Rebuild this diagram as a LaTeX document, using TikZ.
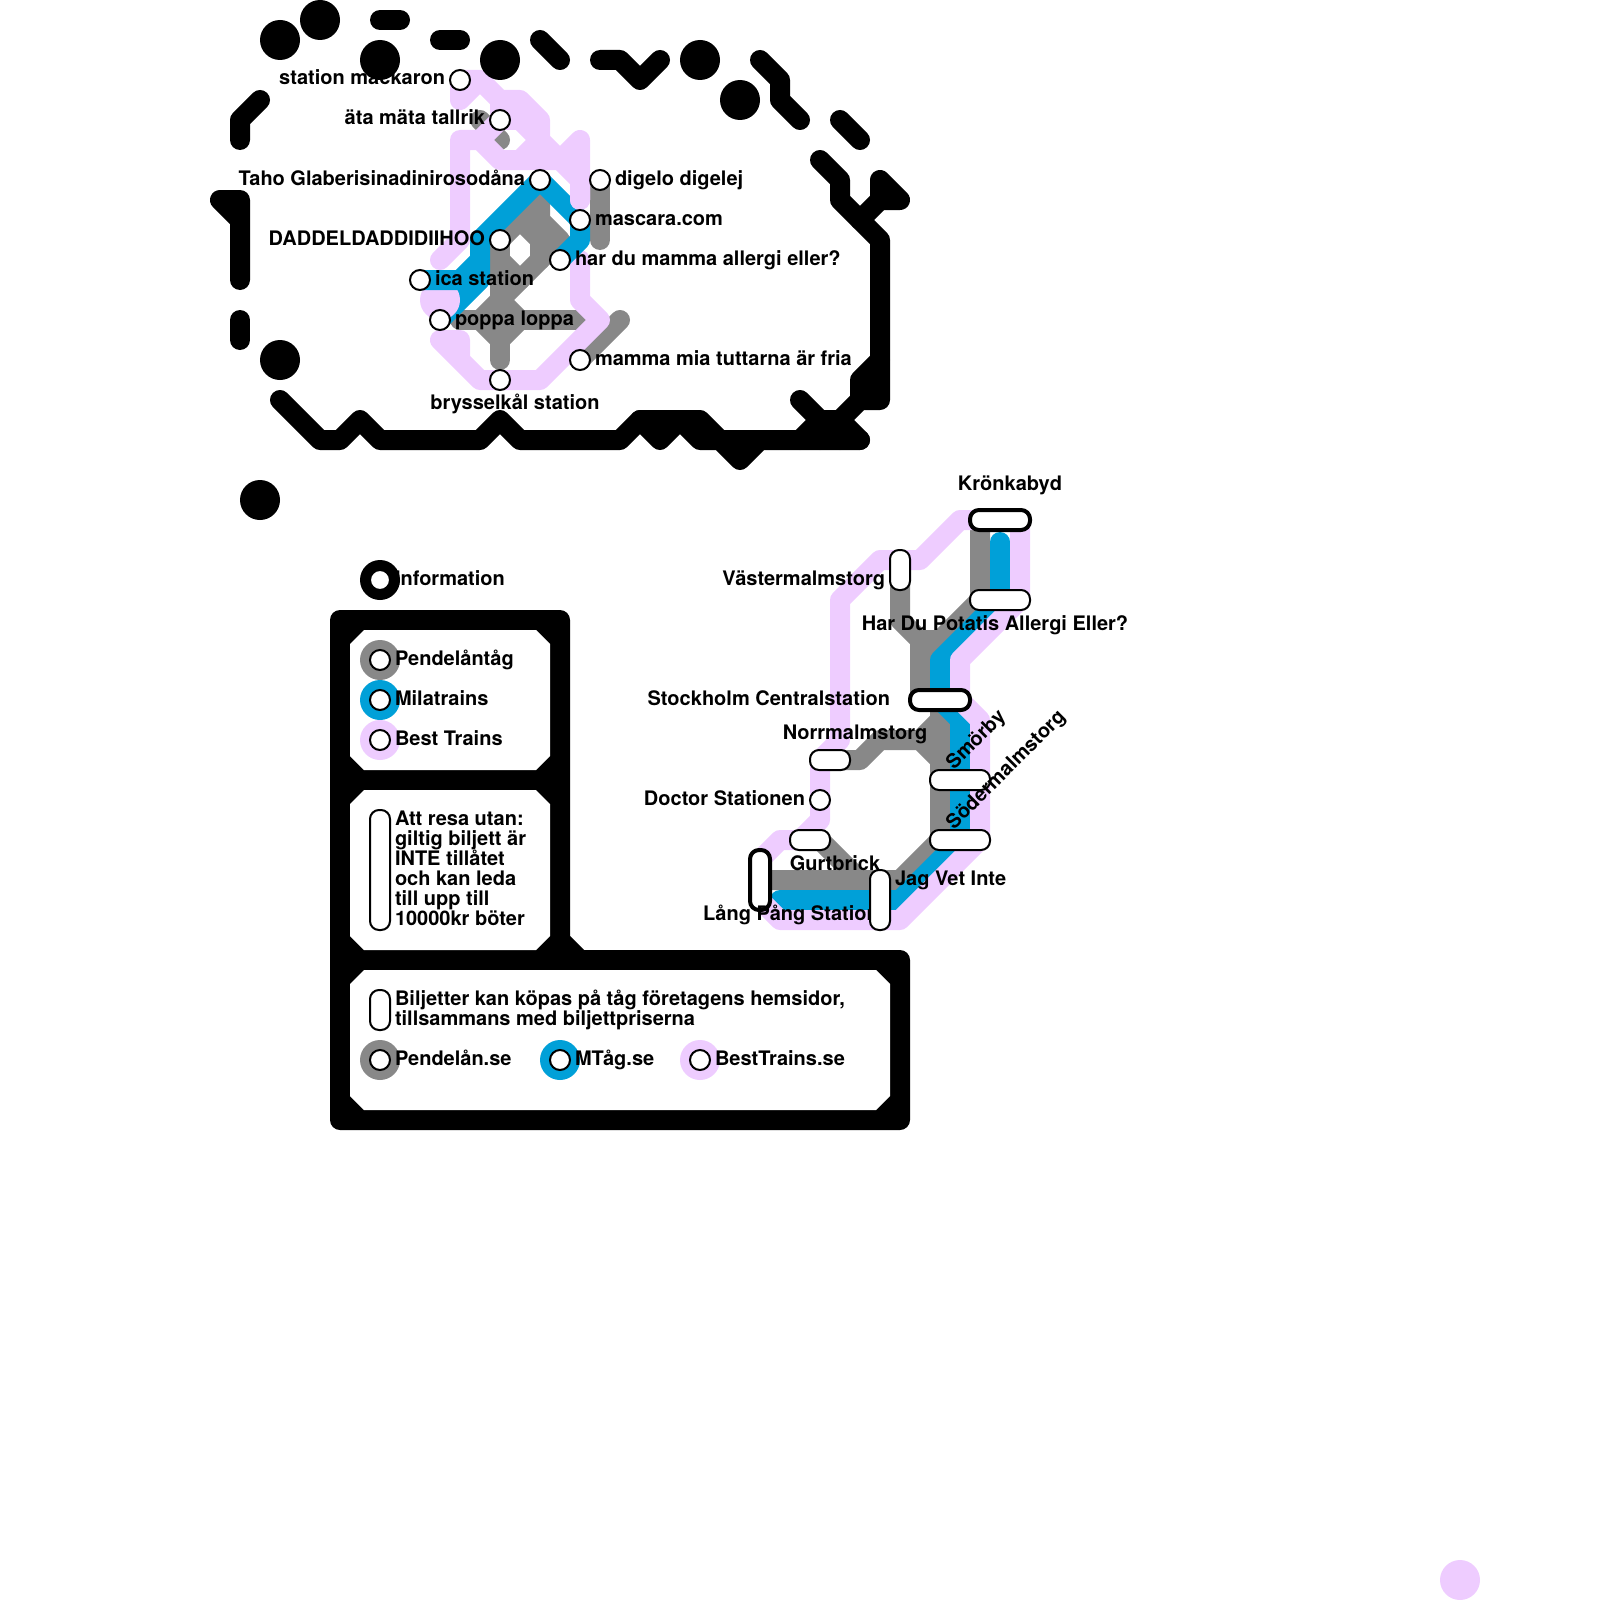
\documentclass[tikz,border=0pt]{standalone}
\usepackage{fontspec}
\setmainfont{TeX Gyre Heros}
\usetikzlibrary{positioning,backgrounds}
\definecolor{trainGrey}{RGB}{136,136,136}
\definecolor{trainBlue}{RGB}{0,160,216}
\definecolor{trainPink}{RGB}{238,204,255}

\begin{document}
\begin{tikzpicture}[
    x=0.5pt, y=-0.5pt,
    stop/.style={circle, draw, fill=white, line width=1pt, minimum size=10pt, inner sep=0pt},
    hub/.style={rectangle, draw, fill=white, line width=1pt, line join=round, rounded corners=4.49pt, inner sep=0pt},
    widehub/.style={hub, minimum width=30pt, minimum height=10pt},
    shorthub/.style={hub, minimum width=20pt, minimum height=10pt},
    tallhub/.style={hub, minimum width=10pt, minimum height=30pt},
    midhub/.style={hub, minimum width=10pt, minimum height=20pt},
    heavywide/.style={hub, line width=2pt, outer sep=0pt, minimum width=30pt, minimum height=10pt},
    heavytall/.style={hub, line width=2pt, outer sep=0pt, minimum width=10pt, minimum height=30pt},
    lbl/.style={inner sep=0pt, outer sep=0pt, font=\bfseries, text height=7.5pt, text depth=2.5pt},
    para/.style={inner sep=0pt, outer sep=0pt, align=left, font=\fontsize{10}{10}\selectfont\bfseries},
    disc/.style={circle, fill=#1, minimum size=20pt, inner sep=0pt},
    route/.style={line width=10pt, line cap=round, line join=round}
]
\useasboundingbox (0,0) rectangle (1600,1600);

\foreach \x/\y in {280/40, 320/20, 380/60, 500/60, 700/60, 740/100, 280/360, 260/500}
    \node[disc=black] (dot\x) at (\x,\y) {};
\node[disc=trainPink] (dotCorner) at (1460,1580) {};

\node[stop] (stMack) at (460,80) {};
\node[lbl, left=2pt of stMack] (lbMack) {station mackaron};
\node[stop] (stAta) at (500,120) {};
\node[lbl, left=2pt of stAta] (lbAta) {äta mäta tallrik};
\node[stop] (stTaho) at (540,180) {};
\node[lbl, left=2pt of stTaho] (lbTaho) {Taho Glaberisinadinirosodåna};
\node[stop] (stDaddel) at (500,240) {};
\node[lbl, left=2pt of stDaddel] (lbDaddel) {DADDELDADDIDIIHOO};
\node[stop] (stDigelo) at (600,180) {};
\node[lbl, right=2pt of stDigelo] (lbDigelo) {digelo digelej};
\node[stop] (stMascara) at (580,220) {};
\node[lbl, right=2pt of stMascara] (lbMascara) {mascara.com};
\node[stop] (stHar) at (560,260) {};
\node[lbl, right=2pt of stHar] (lbHar) {har du mamma allergi eller?};
\node[stop] (stIca) at (420,280) {};
\node[lbl, right=2pt of stIca] (lbIca) {ica station};
\node[stop] (stPoppa) at (440,320) {};
\node[lbl, right=2pt of stPoppa] (lbPoppa) {poppa loppa};
\node[stop] (stMamma) at (580,360) {};
\node[lbl, right=2pt of stMamma] (lbMamma) {mamma mia tuttarna är fria};
\node[stop] (stBryssel) at (500,380) {};
\node[lbl, below=1.5pt of stBryssel, xshift=7.5pt] (lbBryssel) {brysselkål station};

\node[heavywide] (stKronk) at (1000,520) {};
\node[lbl, above=7.5pt of stKronk, xshift=5pt] (lbKronk) {Krönkabyd};
\node[midhub] (stVaster) at (900,570) {};
\node[lbl, left=2pt of stVaster, yshift=-5pt] (lbVaster) {Västermalmstorg};
\node[widehub] (stPotatis) at (1000,600) {};
\node[lbl, below=2pt of stPotatis, xshift=-2.5pt] (lbPotatis) {Har Du Potatis Allergi Eller?};
\node[heavywide] (stCentral) at (940,700) {};
\node[lbl, left=10pt of stCentral] (lbCentral) {Stockholm Centralstation};
\node[shorthub] (stNorr) at (830,760) {};
\node[lbl, above=2.5pt of stNorr, xshift=12.5pt] (lbNorr) {Norrmalmstorg};
\node[stop] (stDoctor) at (820,800) {};
\node[lbl, left=2pt of stDoctor] (lbDoctor) {Doctor Stationen};
\node[widehub] (stSmor) at (960,780) {};
\node[lbl, anchor=west, rotate=45, xshift=1.3pt, yshift=8pt] (lbSmor) at (stSmor) {Smörby};
\node[widehub] (stSoder) at (960,840) {};
\node[lbl, anchor=west, rotate=45, xshift=1.3pt, yshift=8pt] (lbSoder) at (stSoder) {Södermalmstorg};
\node[shorthub] (stGurt) at (810,840) {};
\node[lbl, below=2pt of stGurt, xshift=12.5pt] (lbGurt) {Gurtbrick};
\node[heavytall] (stLang) at (760,880) {};
\node[lbl, below=-2.5pt of stLang, xshift=15.5pt] (lbLang) {Lång Pång Station};
\node[tallhub] (stJag) at (880,900) {};
\node[lbl, right=2pt of stJag, yshift=10pt] (lbJag) {Jag Vet Inte};

\node[disc=black] (discInfo) at (380,580) {};
\node[stop] (stInfo) at (380,580) {};
\node[lbl, right=2pt of stInfo] (lbInfo) {Information};
\node[disc=trainGrey] (discPendel) at (380,660) {};
\node[stop] (stPendel) at (380,660) {};
\node[lbl, right=2pt of stPendel] (lbPendel) {Pendelåntåg};
\node[disc=trainBlue] (discMila) at (380,700) {};
\node[stop] (stMila) at (380,700) {};
\node[lbl, right=2pt of stMila] (lbMila) {Milatrains};
\node[disc=trainPink] (discBest) at (380,740) {};
\node[stop] (stBest) at (380,740) {};
\node[lbl, right=2pt of stBest] (lbBest) {Best Trains};

\node[hub, minimum width=10pt, minimum height=60pt] (stRules) at (380,870) {};
\node[para, right=2pt of stRules, yshift=1pt] (lbRules) {Att resa utan:\\giltig biljett är\\INTE tillåtet\\och kan leda\\till upp till\\10000kr böter};
\node[midhub] (stTicket) at (380,1010) {};
\node[para, right=2pt of stTicket] (lbTicket) {Biljetter kan köpas på tåg företagens hemsidor,\\tillsammans med biljettpriserna};

\node[disc=trainGrey] (discPendelSe) at (380,1060) {};
\node[stop] (stPendelSe) at (380,1060) {};
\node[lbl, right=2pt of stPendelSe] (lbPendelSe) {Pendelån.se};
\node[disc=trainBlue] (discMtag) at (560,1060) {};
\node[stop] (stMtag) at (560,1060) {};
\node[lbl, right=2pt of stMtag] (lbMtag) {MTåg.se};
\node[disc=trainPink] (discBestSe) at (700,1060) {};
\node[stop] (stBestSe) at (700,1060) {};
\node[lbl, right=2pt of stBestSe] (lbBestSe) {BestTrains.se};

\begin{scope}[on background layer]
\draw[route, fill=black] (340,620) -- (560,620) -- (560,940) -- (580,960) -- (900,960) -- (900,1120) -- (340,1120) -- cycle;
\fill[white] (364,630) -- (536,630) -- (550,644) -- (550,756) -- (536,770) -- (364,770) -- (350,756) -- (350,644) -- cycle;
\fill[white] (364,790) -- (536,790) -- (550,804) -- (550,936) -- (536,950) -- (364,950) -- (350,936) -- (350,804) -- cycle;
\fill[white] (364,970) -- (876,970) -- (890,984) -- (890,1096) -- (876,1110) -- (364,1110) -- (350,1096) -- (350,984) -- cycle;

\draw[route] (380,20) -- (400,20);
\draw[route] (440,40) -- (460,40);
\draw[route] (540,40) -- (560,60);
\draw[route] (600,60) -- (620,60) -- (640,80) -- (660,60);
\draw[route] (760,60) -- (780,80) -- (780,100) -- (800,120);
\draw[route] (840,120) -- (860,140);
\draw[route] (820,160) -- (840,180) -- (840,200) -- (880,240) -- (880,400) -- (860,400) -- (820,440);
\draw[route] (880,360) -- (860,380) -- (860,400);
\draw[route] (880,180) -- (900,200) -- (880,200) -- cycle;
\draw[route] (880,200) -- (860,220);
\draw[route] (800,400) -- (840,440);
\draw[route] (800,440) -- (820,420) -- (840,420) -- (860,440);
\draw[route] (260,100) -- (240,120) -- (240,140);
\draw[route] (240,220) -- (220,200) -- (240,200) -- (240,280);
\draw[route] (240,320) -- (240,340);
\draw[route] (280,400) -- (320,440) -- (340,440) -- (360,420) -- (380,440) -- (480,440) -- (500,420) -- (520,440) -- (620,440) -- (640,420) -- (660,440) -- (680,420) -- (700,440) -- (720,440) -- (740,460) -- (760,440) -- (860,440);
\draw[route] (640,420) -- (700,420) -- (720,440) -- (760,440);

\draw[route, trainGrey] (stDigelo.center) -- (600,240);
\draw[route, trainGrey] (stMamma.center) -- (620,320);
\draw[route, trainGrey] (480,120) -- (500,140);
\draw[route, trainGrey] (stDaddel.center) -- (540,200) -- (540,220) -- (560,240) -- (500,300);
\draw[route, trainGrey] (520,220) -- (540,240) -- (540,260);
\draw[route, trainGrey] (500,260) -- (520,280);
\draw[route, trainGrey] (stDaddel.center) -- (500,360);
\draw[route, trainGrey] (460,320) -- (580,320);
\draw[route, trainGrey] (500,300) -- (480,320) -- (500,340) -- (520,320) -- cycle;

\draw[route, trainPink] (580,260) -- (580,300) -- (600,320) -- (540,380) -- (stBryssel.center) -- (480,380) -- (440,340) -- (460,340) -- (460,360) -- (480,380);

\draw[route, trainBlue] (stPoppa.center) -- (480,280) -- (480,240) -- (stTaho.center) -- (stMascara.center) -- (580,240) -- (stHar.center);

\draw[route, trainPink] (stMack.center) -- (460,100) -- (480,80) -- (stMack.center);
\draw[route, trainPink] (480,80) -- (500,100) -- (520,100) -- (540,120) -- (540,140) -- (560,160) -- (580,140) -- (580,200);
\draw[route, trainPink] (500,100) -- (stAta.center) -- (520,120) -- (540,140) -- (520,160);
\draw[route, trainPink] (stAta.center) -- (480,140);
\draw[route, trainPink] (440,260) -- (460,240) -- (460,140) -- (480,140) -- (500,160) -- (560,160) -- (580,180) -- (580,200);
\node[disc=trainPink] (blobIca) at (440,300) {};
\draw[route, trainBlue] (stIca.center) -- (460,280) -- (480,260);

\draw[route, trainGrey] ([xshift=-10pt]stKronk.center) -- (980,600) -- (920,660) -- (920,700);
\draw[route, trainGrey] (stVaster.center) -- (900,620) -- (920,640) -- (940,640);
\draw[route, trainGrey] (920,640) -- (920,700);
\draw[route, trainGrey] (stCentral.center) -- (940,840) -- (900,880) -- (stLang.center);
\draw[route, trainGrey] (stNorr.center) -- (860,760) -- (880,740) -- (920,740) -- (940,760);
\draw[route, trainGrey] (920,740) -- (940,720);
\draw[route, trainGrey] (stGurt.center) -- (820,840) -- (860,880);

\draw[route, trainBlue] (1000,542) -- (1000,600) -- (940,660) -- (stCentral.center) -- (960,720) -- (960,840) -- (900,900) -- (780,900);

\draw[route, trainPink] ([xshift=-10pt]stKronk.center) -- (960,520) -- (920,560) -- (880,560) -- (840,600) -- (840,740) -- (820,760) -- (stDoctor.center) -- (820,820) -- (800,840) -- (780,840) -- (760,860);
\draw[route, trainPink] ([xshift=10pt]stKronk.center) -- (1020,600) -- (960,660) -- (960,700) -- (980,720) -- (980,840) -- (900,920) -- (780,920) -- (760,900);
\end{scope}
\end{tikzpicture}
\end{document}
